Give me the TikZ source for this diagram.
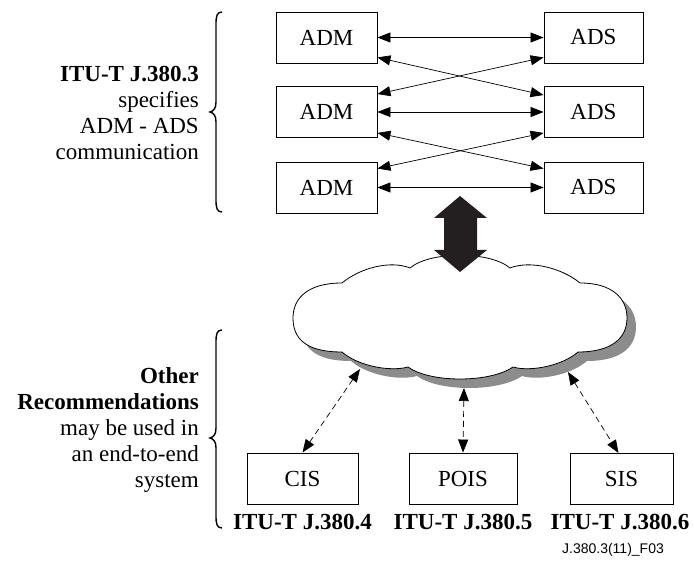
\documentclass[tikz,border=0pt]{standalone}
\usepackage{fontspec}
\setmainfont{Liberation Serif}
\newfontfamily\arialf{Liberation Sans}
\usetikzlibrary{arrows.meta,calc}
\definecolor{arrowdark}{RGB}{35,31,32}
\newcommand\cloudshape{(342,352) .. controls (305,352) and (293,338) .. (293,318)
  .. controls (293,298) and (308,283) .. (342,283)
  .. controls (360,268) and (390,260) .. (410,268)
  .. controls (430,251) and (490,251) .. (510,268)
  .. controls (530,260) and (562,268) .. (580,283)
  .. controls (612,283) and (627,298) .. (627,318)
  .. controls (627,338) and (612,352) .. (578,352)
  .. controls (562,366) and (530,372) .. (513,367)
  .. controls (490,383) and (430,383) .. (408,367)
  .. controls (390,372) and (358,366) .. (342,352) -- cycle}
\begin{document}
\begin{tikzpicture}[x=1pt,y=-1pt,
  box/.style={draw,line width=0.9pt,minimum width=101pt,minimum height=51pt,inner sep=0pt,font=\fontsize{23}{26}\selectfont},
  link/.style={line width=0.7pt,{Triangle[length=13pt,width=10pt]}-{Triangle[length=13pt,width=10pt]}},
  dlink/.style={link,dash pattern=on 6pt off 4pt},
  lab/.style={font=\fontsize{23}{26}\selectfont\bfseries,inner sep=0pt},
  side/.style={font=\fontsize{23}{26}\selectfont,align=right,inner sep=0pt,anchor=east},
  bracestyle/.style={line width=1.4pt},
  shadowfill/.style={fill=black!45},
  bigarrow/.style={fill=arrowdark}]
\useasboundingbox (0,0) rectangle (694,561);

% top boxes
\node[box] (adm1) at (326.5,37.5) {ADM};
\node[box] (adm2) at (326.5,112) {ADM};
\node[box] (adm3) at (326.5,187.5) {ADM};
\node[box,minimum width=99pt] (ads1) at (593.5,37.5) {ADS};
\node[box,minimum width=99pt] (ads2) at (593.5,112) {ADS};
\node[box,minimum width=99pt] (ads3) at (593.5,187.5) {ADS};

\draw[link] (adm1) -- (ads1);
\draw[link] (adm2) -- (ads2);
\draw[link] (adm3) -- (ads3);
\draw[link] ([yshift=6pt]adm1.south east) -- ([yshift=-9pt]ads2.north west);
\draw[link] ([yshift=6pt]ads1.south west) -- ([yshift=-8pt]adm2.north east);
\draw[link] ([yshift=5pt]adm2.south east) -- ([yshift=-7pt]ads3.north west);
\draw[link] ([yshift=5pt]ads2.south west) -- ([yshift=-7pt]adm3.north east);

% cloud
\fill[shadowfill,shift={(9,9)}] \cloudshape;
\draw[fill=white,line width=0.8pt] \cloudshape;

% big double arrow
\fill[bigarrow] (460,196) -- (487,218) -- (477,218) -- (477,250) -- (487,250) -- (460,272)
  -- (434,250) -- (444,250) -- (444,218) -- (434,218) -- cycle;

% bottom boxes
\node[box,minimum width=111pt] (cis) at (302.5,478.5) {CIS};
\node[box,minimum width=108pt] (pois) at (463,478.5) {POIS};
\node[box,minimum width=103pt] (sis) at (621.5,479) {SIS};

\coordinate (c1) at (360,369);
\coordinate (c2) at (464,388);
\coordinate (c3) at (568,372);
\draw[dlink] (c1) -- (cis.north);
\draw[dlink] (c2) -- (pois.north);
\draw[dlink] (c3) -- ([xshift=-3pt]sis.north);

\node[lab] (l4) at (302.5,522) {ITU-T J.380.4};
\node[lab] (l5) at (463,522) {ITU-T J.380.5};
\node[lab] (l6) at (620,522) {ITU-T J.380.6};

\node[font=\arialf\fontsize{14}{16}\selectfont,inner sep=0pt] (fig) at (613,550) {J.380.3(11)\_F03};

% braces
\draw[bracestyle] (222,12) .. controls (217,12) and (216,16) .. (216,24) -- (216,102)
  .. controls (216,108) and (214,111) .. (210,112) .. controls (214,113) and (216,116) .. (216,122)
  -- (216,200) .. controls (216,208) and (217,212) .. (222,212);
\draw[bracestyle] (222,330) .. controls (217,330) and (216,334) .. (216,342) -- (216,428)
  .. controls (216,434) and (214,437) .. (210,438) .. controls (214,439) and (216,442) .. (216,448)
  -- (216,516) .. controls (216,524) and (217,528) .. (222,528);

\node[side] (t1) at (199,112.5) {\textbf{ITU-T J.380.3}\\specifies\\ADM - ADS\\communication};
\node[side] (t2) at (199,430) {\textbf{Other}\\\textbf{Recommendations}\\may be used in\\an end-to-end\\system};
\end{tikzpicture}
\end{document}
